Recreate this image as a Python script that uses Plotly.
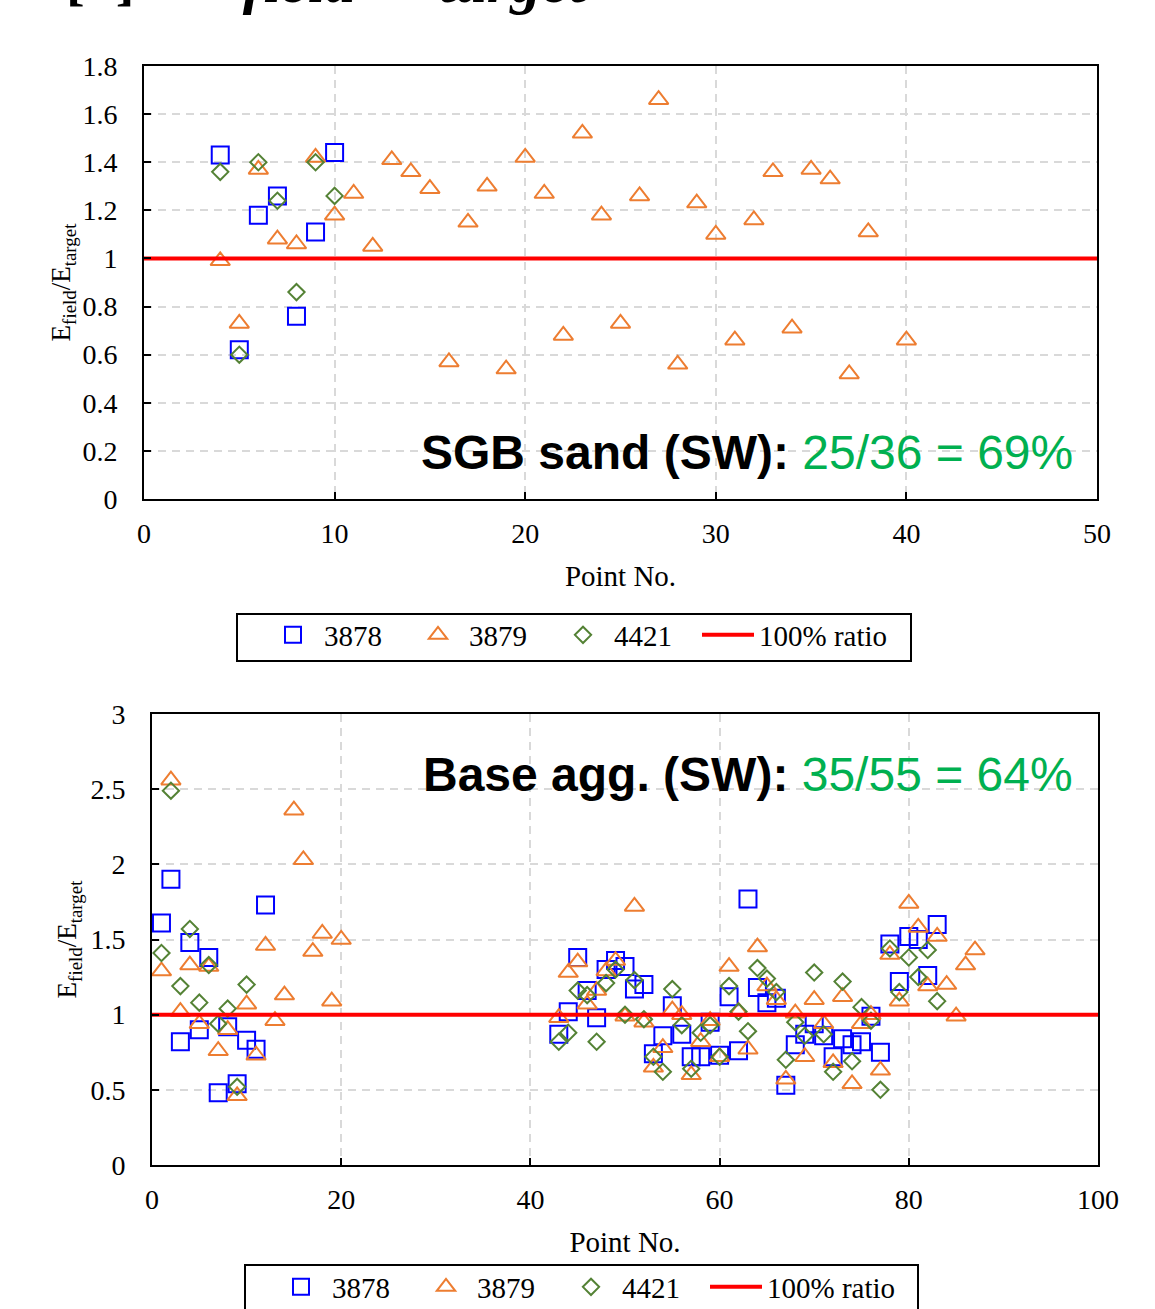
import plotly.graph_objects as go

# ---------------- data: top chart (SGB sand) ----------------
top_3878_x = [4, 5, 6, 7, 8, 9, 10]
top_3878_y = [1.43, 0.62, 1.18, 1.26, 0.76, 1.11, 1.44]

top_3879_x = [4, 5, 6, 7, 8, 9, 10, 11, 12, 13, 14, 15, 16, 17, 18, 19, 20,
              21, 22, 23, 24, 25, 26, 27, 28, 29, 30, 31, 32, 33, 34, 35, 36,
              37, 38, 40]
top_3879_y = [0.99, 0.73, 1.37, 1.08, 1.06, 1.42, 1.18, 1.27, 1.05, 1.41, 1.36,
              1.29, 0.57, 1.15, 1.30, 0.54, 1.42, 1.27, 0.68, 1.52, 1.18, 0.73,
              1.26, 1.66, 0.56, 1.23, 1.10, 0.66, 1.16, 1.36, 0.71, 1.37, 1.33,
              0.52, 1.11, 0.66]

top_4421_x = [4, 5, 6, 7, 8, 9, 10]
top_4421_y = [1.36, 0.60, 1.40, 1.24, 0.86, 1.40, 1.26]

top_ratio_x = [0, 50]
top_ratio_y = [1, 1]

# ---------------- data: bottom chart (Base agg.) ----------------
bot_3878_x = [1, 2, 3, 4, 5, 6, 7, 8, 9, 10, 11, 12,
              43, 44, 45, 46, 47, 48, 49, 50, 51, 52, 53, 54, 55, 56, 57, 58,
              59, 60, 61, 62, 63, 64, 65, 66, 67, 68, 69, 70, 71, 72, 73, 74,
              75, 76, 77, 78, 79, 80, 81, 82, 83]
bot_3878_y = [1.61, 1.90, 0.82, 1.48, 0.90, 1.38, 0.48, 0.92, 0.54, 0.83, 0.77, 1.73,
              0.87, 1.02, 1.38, 1.16, 0.98, 1.30, 1.36, 1.32, 1.17, 1.20, 0.74, 0.86,
              1.06, 0.87, 0.72, 0.72, 0.95, 0.73, 1.12, 0.76, 1.77, 1.18, 1.08, 1.11,
              0.53, 0.80, 0.87, 0.94, 0.86, 0.72, 0.84, 0.80, 0.82, 0.99, 0.75, 1.47,
              1.22, 1.52, 1.50, 1.26, 1.60]

bot_3879_x = [1, 2, 3, 4, 5, 6, 7, 8, 9, 10, 11, 12, 13, 14, 15, 16, 17, 18, 19, 20,
              43, 44, 45, 46, 47, 48, 49, 50, 51, 52, 53, 54, 55, 56, 57, 58, 59,
              60, 61, 62, 63, 64, 65, 66, 67, 68, 69, 70, 71, 72, 73, 74, 75, 76,
              77, 78, 79, 80, 81, 82, 83, 84, 85, 86, 87]
bot_3879_y = [1.29, 2.56, 1.02, 1.33, 0.94, 1.32, 0.76, 0.90, 0.46, 1.07, 0.73, 1.46,
              0.96, 1.13, 2.36, 2.03, 1.42, 1.54, 1.09, 1.50,
              0.98, 1.28, 1.35, 1.07, 1.16, 1.29, 1.36, 0.99, 1.72, 0.95, 0.65, 0.78,
              1.03, 1.00, 0.60, 0.82, 0.96, 0.72, 1.32, 1.02, 0.77, 1.45, 1.19, 1.10,
              0.57, 1.01, 0.72, 1.10, 0.94, 0.68, 1.12, 0.54, 0.94, 1.00, 0.63, 1.40,
              1.09, 1.74, 1.58, 1.19, 1.52, 1.20, 0.99, 1.33, 1.43]

bot_4421_x = [1, 2, 3, 4, 5, 6, 7, 8, 9, 10,
              43, 44, 45, 46, 47, 48, 49, 50, 51, 52, 53, 54, 55, 56, 57, 58, 59,
              60, 61, 62, 63, 64, 65, 66, 67, 68, 69, 70, 71, 72, 73, 74, 75, 76,
              77, 78, 79, 80, 81, 82, 83]
bot_4421_y = [1.41, 2.49, 1.19, 1.57, 1.08, 1.33, 0.94, 1.04, 0.52, 1.20,
              0.82, 0.88, 1.16, 1.13, 0.82, 1.21, 1.30, 1.00, 1.23, 0.97, 0.72, 0.62,
              1.17, 0.93, 0.64, 0.88, 0.93, 0.72, 1.19, 1.02, 0.89, 1.31, 1.24, 1.15,
              0.70, 0.95, 0.86, 1.28, 0.87, 0.62, 1.22, 0.69, 1.05, 0.96, 0.50, 1.44,
              1.15, 1.38, 1.25, 1.43, 1.09]

bot_ratio_x = [0, 100]
bot_ratio_y = [1, 1]

series_names = ["3878", "3879", "4421", "100% ratio"]

# ---------------- styles ----------------
W, H = 1155, 1309
BLUE, ORANGE, GREEN, RED = "#0000FF", "#ED7D31", "#548235", "#FF0000"
SERIF = "Liberation Serif"
SANS = "Liberation Sans"


def px_x(p):
    return p / W


def px_y(p):
    return (H - p) / H


fig = go.Figure()


def add_traces(data, xaxis, yaxis, legends):
    (bx, by), (ox, oy), (gx, gy), (rx, ry) = data
    fig.add_trace(go.Scatter(x=bx, y=by, mode="markers", name=series_names[0],
                             xaxis=xaxis, yaxis=yaxis, legend=legends[0],
                             marker=dict(symbol="square-open", size=17, color=BLUE,
                                         line=dict(width=2))))
    fig.add_trace(go.Scatter(x=ox, y=oy, mode="markers", name=series_names[1],
                             xaxis=xaxis, yaxis=yaxis, legend=legends[1],
                             marker=dict(symbol="triangle-up-open", size=17, color=ORANGE,
                                         line=dict(width=2))))
    fig.add_trace(go.Scatter(x=gx, y=gy, mode="markers", name=series_names[2],
                             xaxis=xaxis, yaxis=yaxis, legend=legends[2],
                             marker=dict(symbol="diamond-open", size=12.5, color=GREEN,
                                         line=dict(width=2))))
    fig.add_trace(go.Scatter(x=rx, y=ry, mode="lines", name=series_names[3],
                             xaxis=xaxis, yaxis=yaxis, legend=legends[3],
                             line=dict(color=RED, width=4)))


add_traces([(top_3878_x, top_3878_y), (top_3879_x, top_3879_y),
            (top_4421_x, top_4421_y), (top_ratio_x, top_ratio_y)], "x", "y",
           ["legend", "legend2", "legend3", "legend4"])
add_traces([(bot_3878_x, bot_3878_y), (bot_3879_x, bot_3879_y),
            (bot_4421_x, bot_4421_y), (bot_ratio_x, bot_ratio_y)], "x2", "y2",
           ["legend5", "legend6", "legend7", "legend8"])

axis_common = dict(showline=True, mirror=True, linecolor="black", linewidth=2,
                   ticks="inside", ticklen=7, tickwidth=2, tickcolor="black",
                   showgrid=True, gridcolor="#D9D9D9", gridwidth=2, griddash="8px,6px",
                   zeroline=False, tickfont=dict(family=SERIF, size=28, color="black"))

ytitle = "E<sub>field</sub>/E<sub>target</sub>"
title_font = dict(family=SERIF, size=29, color="black")
ytitle_font = dict(family=SERIF, size=27, color="black")

fig.update_layout(
    width=W, height=H,
    margin=dict(l=0, r=0, t=0, b=0, autoexpand=False),
    paper_bgcolor="white", plot_bgcolor="white",
    xaxis=dict(domain=[px_x(144), px_x(1097)], range=[0, 50], dtick=10, anchor="y",
               ticklabelstandoff=8,
               title=dict(text="Point No.", font=title_font, standoff=18),
               **axis_common),
    yaxis=dict(domain=[px_y(499), px_y(66)], range=[0, 1.8], dtick=0.2, anchor="x",
               ticklabelstandoff=19,
               title=dict(text=ytitle, font=ytitle_font, standoff=4),
               **axis_common),
    xaxis2=dict(domain=[px_x(152), px_x(1098)], range=[0, 100], dtick=20, anchor="y2",
                ticklabelstandoff=8,
                title=dict(text="Point No.", font=title_font, standoff=18),
                **axis_common),
    yaxis2=dict(domain=[px_y(1165), px_y(714)], range=[0, 3], dtick=0.5, anchor="x2",
                ticklabelstandoff=19,
                title=dict(text=ytitle, font=ytitle_font, standoff=6),
                **axis_common),
    showlegend=True,
)

# one legend per entry so each sits exactly where it is in the reference
leg_x_top = [262, 407, 552, 697]
leg_x_bot = [270, 415, 560, 705]
leg_layout = {}
for i, lx in enumerate(leg_x_top):
    key = "legend" if i == 0 else f"legend{i + 1}"
    leg_layout[key] = dict(x=px_x(lx), y=px_y(635), xanchor="left", yanchor="middle",
                           borderwidth=0, bgcolor="rgba(0,0,0,0)", itemwidth=52,
                           font=dict(family=SERIF, size=29, color="black"))
for i, lx in enumerate(leg_x_bot):
    key = f"legend{i + 5}"
    leg_layout[key] = dict(x=px_x(lx), y=px_y(1287), xanchor="left", yanchor="middle",
                           borderwidth=0, bgcolor="rgba(0,0,0,0)", itemwidth=52,
                           font=dict(family=SERIF, size=29, color="black"))
fig.update_layout(**leg_layout)

shapes = [
    dict(type="rect", xref="paper", yref="paper", x0=px_x(237), x1=px_x(911),
         y0=px_y(661), y1=px_y(614), line=dict(color="black", width=2)),
    dict(type="rect", xref="paper", yref="paper", x0=px_x(245), x1=px_x(918),
         y0=px_y(1312), y1=px_y(1265), line=dict(color="black", width=2)),
]
fig.update_layout(shapes=shapes)

annotations = [
    dict(xref="paper", yref="paper", x=px_x(1075), y=px_y(453), xanchor="right",
         yanchor="middle", showarrow=False,
         text="<b>SGB sand (SW): </b><span style='color:#00B050'>25/36 = 69%</span>",
         font=dict(family=SANS, size=48, color="black")),
    dict(xref="paper", yref="paper", x=px_x(1075), y=px_y(775), xanchor="right",
         yanchor="middle", showarrow=False,
         text="<b>Base agg. (SW): </b><span style='color:#00B050'>35/55 = 64%</span>",
         font=dict(family=SANS, size=48, color="black")),
    # cut-off heading at the very top of the page
    dict(xref="paper", yref="paper", x=px_x(100), y=px_y(-20), xanchor="center",
         yanchor="middle", showarrow=False, text="<b>[b]</b>",
         font=dict(family=SERIF, size=56, color="black")),
    dict(xref="paper", yref="paper", x=px_x(385), y=px_y(-39), xanchor="center",
         yanchor="middle", showarrow=False,
         text="<b><i>E<sub>field</sub>/E<sub>target</sub></i></b>",
         font=dict(family=SERIF, size=88, color="black")),
]
fig.update_layout(annotations=annotations)

fig.write_html("out.html", config={"displayModeBar": False},
               post_script="document.body.style.margin='0px';")
